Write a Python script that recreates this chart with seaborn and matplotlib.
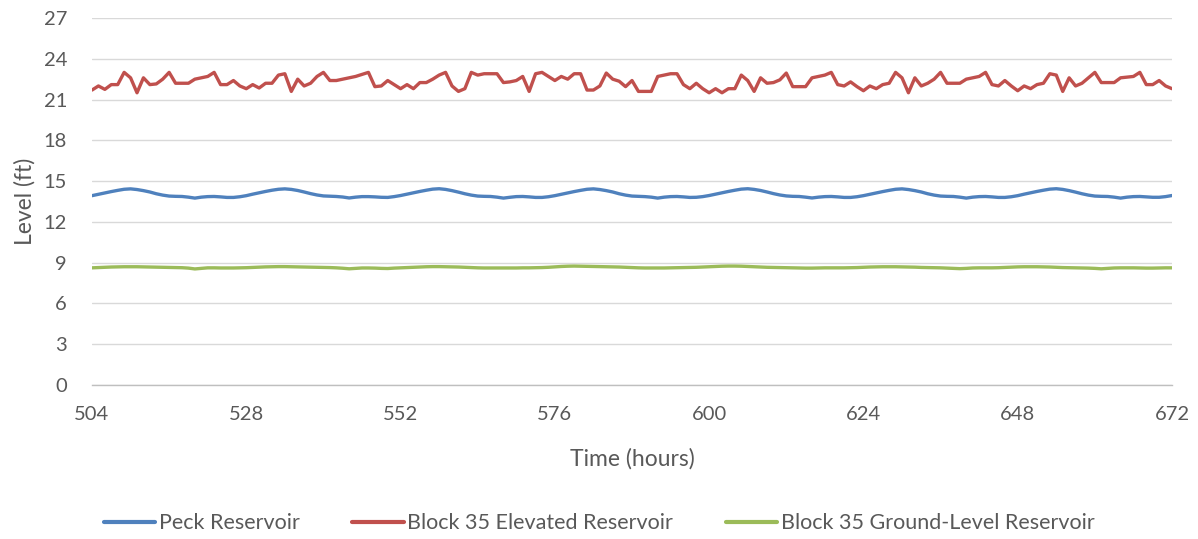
import matplotlib
matplotlib.use("Agg")
import matplotlib.pyplot as plt
import seaborn as sns
import pandas as pd
import numpy as np

# Hourly reservoir levels (ft), hours 504-672
hours = list(range(504, 673))

peck = [
    13.93, 14.03, 14.13, 14.23, 14.32, 14.40, 14.43, 14.38, 14.30, 14.20, 14.07, 13.97,
    13.90, 13.88, 13.87, 13.82, 13.75, 13.82, 13.86, 13.87, 13.84, 13.80, 13.80, 13.85,
    13.93, 14.04, 14.14, 14.24, 14.33, 14.40, 14.43, 14.39, 14.31, 14.20, 14.08, 13.98,
    13.91, 13.89, 13.87, 13.83, 13.76, 13.82, 13.86, 13.86, 13.84, 13.81, 13.80, 13.86,
    13.94, 14.04, 14.14, 14.24, 14.33, 14.41, 14.44, 14.39, 14.30, 14.19, 14.07, 13.97,
    13.90, 13.88, 13.87, 13.82, 13.75, 13.81, 13.86, 13.87, 13.84, 13.80, 13.80, 13.85,
    13.93, 14.03, 14.13, 14.23, 14.32, 14.40, 14.43, 14.38, 14.30, 14.20, 14.07, 13.97,
    13.90, 13.88, 13.86, 13.82, 13.75, 13.82, 13.86, 13.87, 13.84, 13.80, 13.81, 13.86,
    13.94, 14.04, 14.14, 14.24, 14.33, 14.41, 14.44, 14.39, 14.31, 14.20, 14.08, 13.98,
    13.91, 13.88, 13.87, 13.82, 13.76, 13.82, 13.86, 13.87, 13.84, 13.80, 13.80, 13.85,
    13.93, 14.03, 14.13, 14.23, 14.32, 14.40, 14.43, 14.38, 14.30, 14.20, 14.07, 13.97,
    13.90, 13.88, 13.87, 13.82, 13.75, 13.82, 13.86, 13.87, 13.84, 13.80, 13.80, 13.85,
    13.93, 14.04, 14.14, 14.24, 14.33, 14.41, 14.44, 14.39, 14.30, 14.19, 14.07, 13.97,
    13.90, 13.88, 13.87, 13.82, 13.75, 13.82, 13.86, 13.87, 13.84, 13.81, 13.81, 13.86,
    13.94,
]

elevated = [
    21.7, 22.0, 21.75, 22.1, 22.1, 23.0, 22.6, 21.5, 22.6, 22.1, 22.15, 22.5,
    23.0, 22.2, 22.2, 22.2, 22.5, 22.6, 22.7, 23.0, 22.1, 22.1, 22.4, 22.0,
    21.8, 22.1, 21.85, 22.2, 22.2, 22.8, 22.9, 21.6, 22.5, 22.0, 22.2, 22.7,
    23.0, 22.4, 22.4, 22.5, 22.6, 22.7, 22.85, 23.0, 21.95, 22.0, 22.4, 22.1,
    21.8, 22.1, 21.8, 22.25, 22.25, 22.5, 22.8, 23.0, 22.0, 21.6, 21.8, 23.0,
    22.8, 22.9, 22.9, 22.9, 22.25, 22.3, 22.4, 22.7, 21.6, 22.9, 23.0, 22.7,
    22.4, 22.7, 22.5, 22.9, 22.9, 21.7, 21.7, 22.0, 22.95, 22.5, 22.35, 21.95,
    22.4, 21.6, 21.6, 21.6, 22.7, 22.8, 22.9, 22.9, 22.1, 21.8, 22.2, 21.8,
    21.5, 21.8, 21.5, 21.8, 21.8, 22.8, 22.4, 21.6, 22.6, 22.2, 22.25, 22.45,
    22.95, 21.95, 21.95, 21.95, 22.6, 22.7, 22.8, 23.0, 22.1, 22.0, 22.3, 21.95,
    21.65, 22.0, 21.8, 22.1, 22.2, 23.0, 22.6, 21.5, 22.6, 22.0, 22.2, 22.5,
    23.0, 22.2, 22.2, 22.2, 22.5, 22.6, 22.7, 23.0, 22.1, 22.0, 22.4, 22.0,
    21.65, 22.0, 21.8, 22.1, 22.2, 22.9, 22.8, 21.6, 22.6, 22.0, 22.2, 22.6,
    23.0, 22.25, 22.25, 22.25, 22.6, 22.65, 22.7, 23.0, 22.1, 22.1, 22.4, 22.0,
    21.8,
]

ground = [
    8.62, 8.64, 8.66, 8.68, 8.69, 8.70, 8.70, 8.70, 8.69, 8.68, 8.67, 8.66,
    8.65, 8.64, 8.63, 8.60, 8.54, 8.58, 8.62, 8.62, 8.61, 8.61, 8.61, 8.62,
    8.63, 8.65, 8.67, 8.69, 8.70, 8.71, 8.71, 8.70, 8.69, 8.68, 8.67, 8.66,
    8.65, 8.64, 8.62, 8.59, 8.55, 8.58, 8.61, 8.61, 8.60, 8.58, 8.57, 8.60,
    8.62, 8.64, 8.66, 8.68, 8.70, 8.71, 8.71, 8.70, 8.69, 8.68, 8.66, 8.64,
    8.62, 8.61, 8.61, 8.61, 8.61, 8.61, 8.61, 8.62, 8.62, 8.63, 8.64, 8.66,
    8.69, 8.72, 8.74, 8.75, 8.74, 8.73, 8.72, 8.71, 8.70, 8.69, 8.68, 8.66,
    8.64, 8.62, 8.61, 8.61, 8.61, 8.61, 8.62, 8.63, 8.64, 8.65, 8.66, 8.68,
    8.70, 8.72, 8.74, 8.75, 8.75, 8.74, 8.72, 8.70, 8.68, 8.66, 8.65, 8.64,
    8.63, 8.62, 8.61, 8.60, 8.60, 8.61, 8.62, 8.62, 8.62, 8.62, 8.63, 8.64,
    8.66, 8.68, 8.69, 8.70, 8.70, 8.70, 8.69, 8.68, 8.67, 8.65, 8.64, 8.63,
    8.62, 8.60, 8.58, 8.56, 8.58, 8.61, 8.62, 8.62, 8.62, 8.63, 8.65, 8.67,
    8.69, 8.70, 8.70, 8.70, 8.69, 8.68, 8.66, 8.64, 8.63, 8.62, 8.61, 8.60,
    8.58, 8.55, 8.58, 8.61, 8.62, 8.62, 8.62, 8.61, 8.60, 8.60, 8.61, 8.62,
    8.62,
]

series_names = ["Peck Reservoir", "Block 35 Elevated Reservoir", "Block 35 Ground-Level Reservoir"]
colors = ["#4F81BD", "#C0504D", "#9BBB59"]
x_ticks = [504, 528, 552, 576, 600, 624, 648, 672]
y_ticks = [0, 3, 6, 9, 12, 15, 18, 21, 24, 27]

df = pd.concat([
    pd.DataFrame({"Time": hours, "Level": vals, "Series": name})
    for name, vals in zip(series_names, [peck, elevated, ground])
], ignore_index=True)

sns.set_theme(style="white")
plt.rcParams["font.family"] = ["Lato", "DejaVu Sans"]
text_color = "#595959"

fig = plt.figure(figsize=(11.98, 5.39), dpi=100)
ax = fig.add_axes([0.0768, 0.2857, 0.9015, 0.6809])

sns.lineplot(data=df, x="Time", y="Level", hue="Series", hue_order=series_names,
             palette=colors, linewidth=2.4, ax=ax, legend=False)

ax.set_xlim(504, 672)
ax.set_ylim(0, 27)
ax.set_xticks(x_ticks)
ax.set_yticks(y_ticks)
ax.set_xticklabels([str(t) for t in x_ticks])
ax.set_yticklabels([str(t) for t in y_ticks])
ax.tick_params(axis="both", length=0, labelsize=14.5, colors=text_color)
ax.tick_params(axis="x", pad=15)
ax.tick_params(axis="y", pad=18)

ax.grid(axis="y", color="#D9D9D9", linewidth=1.0)
ax.grid(axis="x", visible=False)
ax.set_axisbelow(True)
for side in ["top", "right", "left"]:
    ax.spines[side].set_visible(False)
ax.spines["bottom"].set_color("#BFBFBF")
ax.spines["bottom"].set_linewidth(1.0)

ax.set_xlabel("Time (hours)", fontsize=16.5, color=text_color, labelpad=18)
ax.set_ylabel("Level (ft)", fontsize=16.5, color=text_color, labelpad=6)

handles = [plt.Line2D([], [], color=c, linewidth=3) for c in colors]
fig.legend(handles, series_names, loc="lower center", bbox_to_anchor=(0.5, -0.025),
           ncol=3, frameon=False, fontsize=15.5, labelcolor=text_color,
           handlelength=2.4, handletextpad=0.15, columnspacing=2.45)

fig.savefig("out.png", dpi=100)
